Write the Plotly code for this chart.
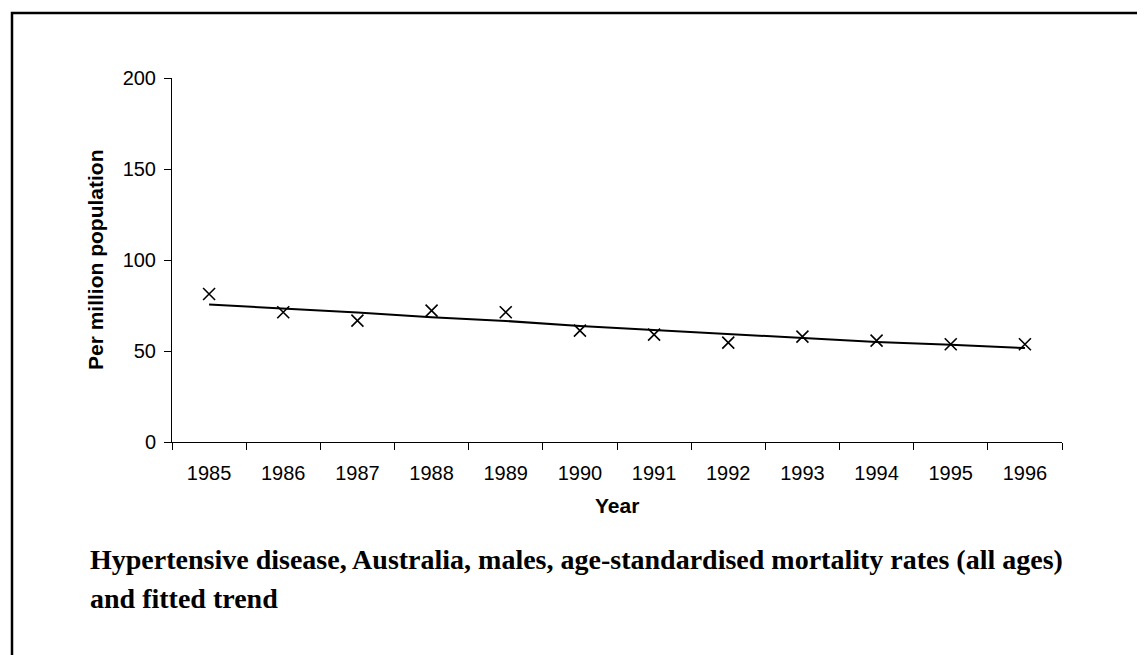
import plotly.graph_objects as go

years = ["1985", "1986", "1987", "1988", "1989", "1990", "1991", "1992", "1993", "1994", "1995", "1996"]
rates = [81.3, 71.3, 66.7, 72.2, 71.3, 61.2, 59.0, 54.6, 57.9, 55.7, 53.7, 53.7]
trend = [75.6, 73.4, 71.1, 68.5, 66.5, 63.7, 61.5, 59.3, 57.0, 55.0, 53.5, 51.6]
y_ticks = [0, 50, 100, 150, 200]

OFF = 8  # page body margin
W, H = 1145 - OFF, 655 - OFF
L, R, T, B = 172 - OFF, 1062 - OFF, 78 - OFF, 442 - OFF
pw, ph = R - L, B - T

def px(x):
    return (x - OFF - L) / pw

def py(y):
    return (B - (y - OFF)) / ph

fig = go.Figure()
fig.add_trace(go.Scatter(x=years, y=trend, mode="lines",
                         line=dict(color="black", width=2), showlegend=False))
fig.add_trace(go.Scatter(x=years, y=rates, mode="markers",
                         marker=dict(symbol="x-thin-open", size=12, color="black",
                                     line=dict(color="black", width=1.6)),
                         showlegend=False))

font_sans = "Liberation Sans, Arial, sans-serif"
font_serif = "Liberation Serif, Times New Roman, serif"

fig.update_layout(
    width=W, height=H,
    margin=dict(l=L, r=W - R, t=T, b=H - B),
    paper_bgcolor="white", plot_bgcolor="white",
    xaxis=dict(type="category", range=[-0.5, 11.5], tickson="boundaries",
               ticks="outside", ticklen=7, tickcolor="black", tickwidth=1,
               ticklabelstandoff=13,
               showline=True, linecolor="black", linewidth=1, showgrid=False,
               zeroline=False, tickfont=dict(family=font_sans, size=20, color="black")),
    yaxis=dict(range=[0, 200], tickvals=y_ticks, ticks="outside", ticklen=7,
               tickcolor="black", tickwidth=1, showline=True, linecolor="black",
               ticklabelstandoff=4,
               linewidth=1, showgrid=False, zeroline=False,
               tickfont=dict(family=font_sans, size=20, color="black")),
    shapes=[dict(type="rect", xref="paper", yref="paper",
                 x0=px(12), x1=px(1170), y0=py(680), y1=py(13),
                 line=dict(color="black", width=2.5), fillcolor="rgba(0,0,0,0)")],
    annotations=[
        dict(text="<b>Per million population</b>", xref="paper", yref="paper",
             x=px(95), y=py(260), textangle=-90, showarrow=False,
             xanchor="center", yanchor="middle",
             font=dict(family=font_sans, size=21, color="black")),
        dict(text="<b>Year</b>", xref="paper", yref="paper",
             x=px(617), y=py(505), showarrow=False, xanchor="center", yanchor="middle",
             font=dict(family=font_sans, size=21, color="black")),
        dict(text="<b>Hypertensive disease, Australia, males, age-standardised mortality rates (all ages)</b>",
             xref="paper", yref="paper", x=px(88), y=py(559), showarrow=False,
             xanchor="left", yanchor="middle",
             font=dict(family=font_serif, size=28, color="black")),
        dict(text="<b>and fitted trend</b>",
             xref="paper", yref="paper", x=px(88), y=py(598), showarrow=False,
             xanchor="left", yanchor="middle",
             font=dict(family=font_serif, size=28, color="black")),
    ],
)

fig.write_html("out.html")
